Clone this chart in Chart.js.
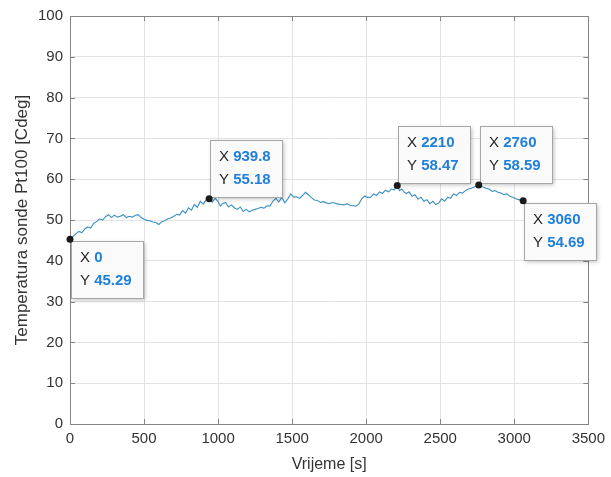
<!DOCTYPE html>
<html>
<head>
<meta charset="utf-8">
<script src="https://cdn.jsdelivr.net/npm/chart.js@4"></script>
<style>
  html, body { margin: 0; padding: 0; background: #fff; }
  #wrap { width: 611px; height: 477px; }
</style>
</head>
<body>
<div id="wrap"><canvas id="myChart"></canvas></div>
<script>
// time [s] and probe temperature [Cdeg]
const times = [0, 20, 40, 60, 80, 100, 120, 140, 160, 180, 200, 220, 240, 260, 280, 300, 320, 340, 360, 380,
  400, 420, 440, 460, 480, 500, 520, 540, 560, 580, 600, 620, 640, 660, 680, 700, 720, 740, 760, 780,
  800, 820, 840, 860, 880, 900, 920, 939.8, 960, 980, 1000, 1015, 1030, 1050, 1070, 1090, 1110, 1130, 1150, 1170,
  1190, 1210, 1230, 1250, 1270, 1290, 1310, 1330, 1350, 1370, 1390, 1410, 1430, 1450, 1470, 1490, 1510, 1530, 1550, 1570,
  1590, 1610, 1630, 1650, 1670, 1690, 1710, 1730, 1750, 1770, 1790, 1810, 1830, 1850, 1870, 1890, 1910, 1930, 1950, 1970,
  1990, 2010, 2030, 2050, 2070, 2090, 2110, 2130, 2150, 2170, 2190, 2210, 2225, 2240, 2255, 2270, 2290, 2310, 2330, 2350,
  2370, 2390, 2410, 2430, 2450, 2470, 2490, 2510, 2530, 2550, 2570, 2590, 2610, 2630, 2650, 2670, 2690, 2710, 2730, 2760,
  2790, 2810, 2830, 2850, 2870, 2890, 2910, 2930, 2950, 2970, 2990, 3010, 3030, 3060];
const temps = [45.29, 46.0, 46.6, 47.2, 46.9, 47.8, 48.3, 48.0, 49.2, 49.6, 50.3, 50.0, 50.8, 51.3, 50.6, 51.2, 50.7, 50.9, 51.3, 50.6,
  50.9, 50.7, 51.1, 51.3, 50.6, 50.2, 49.9, 49.8, 49.5, 49.4, 48.9, 49.6, 49.8, 50.3, 50.5, 50.9, 51.4, 51.2, 52.3, 51.7,
  53.0, 52.4, 53.8, 53.1, 54.6, 53.9, 55.0, 55.18, 54.4, 55.3, 54.5, 53.4, 54.0, 54.3, 53.2, 53.7, 53.0, 52.6, 53.2, 52.1,
  52.6, 52.0, 52.4, 52.6, 52.8, 53.1, 52.9, 53.5, 53.4, 54.6, 55.3, 54.4, 55.6, 54.2, 55.1, 56.4, 55.6, 55.7, 55.3, 56.0,
  56.8, 56.2, 55.5, 54.9, 54.8, 54.3, 54.5, 54.2, 54.0, 54.3, 54.1, 53.9, 53.8, 53.7, 54.0, 53.6, 53.5, 53.4, 53.9, 55.2,
  55.9, 55.5, 55.6, 56.4, 56.0, 56.9, 56.5, 57.3, 56.9, 57.6, 57.4, 58.47, 57.2, 57.6, 56.9, 56.5, 56.9, 55.8, 56.2, 55.1,
  55.6, 54.6, 55.0, 54.0, 54.6, 53.8, 54.2, 55.2, 54.6, 55.6, 55.3, 56.4, 56.0, 56.8, 56.6, 57.2, 57.6, 57.8, 58.1, 58.59,
  58.1, 57.8, 57.6, 57.0, 57.2, 56.8, 56.6, 56.2, 56.4, 55.8, 55.6, 55.2, 55.0, 54.69];

// data tips
const tipX = [0, 939.8, 2210, 2760, 3060];
const tipY = [45.29, 55.18, 58.47, 58.59, 54.69];
const tipXLabel = ["0", "939.8", "2210", "2760", "3060"];
const tipYLabel = ["45.29", "55.18", "58.47", "58.59", "54.69"];
const tipBelow = [true, false, false, false, true];

const xTicks = [0, 500, 1000, 1500, 2000, 2500, 3000, 3500];
const yTicks = [0, 10, 20, 30, 40, 50, 60, 70, 80, 90, 100];

const FONT = "'Liberation Sans', Arial, sans-serif";

const lineData = times.map((t, i) => ({ x: t, y: temps[i] }));

const boxPlugin = {
  id: "boxAndTips",
  afterDatasetsDraw(chart) {
    const ctx = chart.ctx;
    const a = chart.chartArea;
    const xs = chart.scales.x, ys = chart.scales.y;
    ctx.save();
    // frame
    ctx.strokeStyle = "#858585";
    ctx.lineWidth = 1;
    ctx.strokeRect(Math.round(a.left) + 0.5, Math.round(a.top) + 0.5,
      Math.round(a.right - a.left), Math.round(a.bottom - a.top));
    // inner tick marks
    ctx.beginPath();
    xTicks.forEach(v => {
      const px = Math.round(xs.getPixelForValue(v)) + 0.5;
      ctx.moveTo(px, a.bottom); ctx.lineTo(px, a.bottom - 5);
      ctx.moveTo(px, a.top); ctx.lineTo(px, a.top + 5);
    });
    yTicks.forEach(v => {
      const py = Math.round(ys.getPixelForValue(v)) + 0.5;
      ctx.moveTo(a.left, py); ctx.lineTo(a.left + 5, py);
      ctx.moveTo(a.right, py); ctx.lineTo(a.right - 5, py);
    });
    ctx.stroke();

    // data tip boxes
    tipX.forEach((t, i) => {
      const px = xs.getPixelForValue(t);
      const py = ys.getPixelForValue(tipY[i]);
      ctx.font = "15px " + FONT;
      const wPrefix = ctx.measureText("Y ").width;
      ctx.font = "bold 15px " + FONT;
      const wVal = Math.max(ctx.measureText(tipXLabel[i]).width, ctx.measureText(tipYLabel[i]).width);
      const w = Math.round(wPrefix + wVal + 20);
      const h = 57;
      const bx = Math.round(px) + 1;
      const by = tipBelow[i] ? Math.round(py) + 2 : Math.round(py) - 2 - h;
      ctx.save();
      ctx.shadowColor = "rgba(0,0,0,0.25)";
      ctx.shadowBlur = 4;
      ctx.shadowOffsetX = 2;
      ctx.shadowOffsetY = 2;
      ctx.fillStyle = "#fafafa";
      ctx.fillRect(bx, by, w, h);
      ctx.restore();
      ctx.strokeStyle = "#a6a6a6";
      ctx.strokeRect(bx + 0.5, by + 0.5, w, h);
      ctx.textBaseline = "middle";
      ctx.textAlign = "left";
      ctx.font = "15px " + FONT;
      ctx.fillStyle = "#262626";
      ctx.fillText("X ", bx + 9, by + 17);
      ctx.fillText("Y ", bx + 9, by + 40);
      ctx.font = "bold 15px " + FONT;
      ctx.fillStyle = "#1f7fdc";
      ctx.fillText(tipXLabel[i], bx + 9 + wPrefix, by + 17);
      ctx.fillText(tipYLabel[i], bx + 9 + wPrefix, by + 40);
    });
    // markers on top
    tipX.forEach((t, i) => {
      ctx.beginPath();
      ctx.arc(xs.getPixelForValue(t), ys.getPixelForValue(tipY[i]), 3.5, 0, Math.PI * 2);
      ctx.fillStyle = "#1a1a1a";
      ctx.fill();
    });
    ctx.restore();
  }
};

const config = {
  type: "line",
  data: {
    datasets: [
      {
        label: "Pt100",
        data: lineData,
        borderColor: "#3a8fc2",
        borderWidth: 1.1,
        pointRadius: 0,
        tension: 0,
        fill: false,
      },
    ],
  },
  options: {
    responsive: true,
    maintainAspectRatio: false,
    animation: false,
    layout: { padding: { top: 14, right: 19, left: 0, bottom: 0 } },
    plugins: {
      legend: { display: false },
      tooltip: { enabled: false },
    },
    scales: {
      x: {
        type: "linear",
        min: 0,
        max: 3500,
        afterBuildTicks: (s) => { s.ticks = xTicks.map(v => ({ value: v })); },
        afterFit: (s) => { s.height = 53; },
        grid: { color: "#e3e3e3", drawTicks: false },
        border: { display: false },
        ticks: {
          color: "#333333",
          font: { family: FONT, size: 15 },
          padding: 6,
          maxRotation: 0,
          callback: (v) => String(v),
        },
        title: {
          display: true,
          text: "Vrijeme [s]",
          color: "#333333",
          font: { family: FONT, size: 16 },
          padding: { top: 0, bottom: 3 },
        },
      },
      y: {
        min: 0,
        max: 100,
        afterBuildTicks: (s) => { s.ticks = yTicks.map(v => ({ value: v })); },
        afterFit: (s) => { s.width = 70; },
        grid: { color: "#e3e3e3", drawTicks: false },
        border: { display: false },
        ticks: {
          color: "#333333",
          font: { family: FONT, size: 15 },
          padding: 7,
          callback: (v) => String(v),
        },
        title: {
          display: true,
          text: "Temperatura sonde Pt100 [Cdeg]",
          color: "#333333",
          font: { family: FONT, size: 17 },
          padding: { top: 12, bottom: 0 },
        },
      },
    },
  },
  plugins: [boxPlugin],
};

const myChart = new Chart(document.getElementById("myChart"), config);
</script>
</body>
</html>
